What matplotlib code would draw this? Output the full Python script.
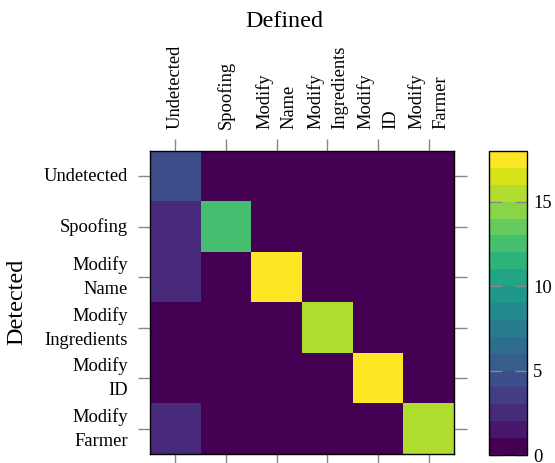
import numpy as np
import matplotlib
matplotlib.use("Agg")
import matplotlib.pyplot as plt
from matplotlib.colors import ListedColormap, BoundaryNorm

plt.rcParams['font.family'] = ['Liberation Serif', 'DejaVu Serif']

detected = ["Undetected", "Spoofing", "Modify\nName", "Modify\nIngredients", "Modify\nID", "Modify\nFarmer"]
defined = ["Undetected", "Spoofing", "Modify\nName", "Modify\nIngredients", "Modify\nID", "Modify\nFarmer"]
# rows: detected, columns: defined
matrix = np.array([
    [4, 0, 0, 0, 0, 0],
    [2, 12, 0, 0, 0, 0],
    [2, 0, 18, 0, 0, 0],
    [0, 0, 0, 15, 0, 0],
    [0, 0, 0, 0, 18, 0],
    [2, 0, 0, 0, 0, 15],
])
cbar_ticks = [0, 5, 10, 15]
vmax = 18

W, H = 555, 463
fig = plt.figure(figsize=(W / 100, H / 100), dpi=100)
ax = fig.add_axes([150 / W, (H - 454) / H, 304 / W, 303 / H])

ncol = vmax
cmap = ListedColormap(plt.get_cmap('viridis')(np.linspace(0, 1, ncol)))
norm = BoundaryNorm(np.arange(0, vmax + 1), ncol)

im = ax.imshow(matrix, cmap=cmap, norm=norm, aspect='auto', interpolation='nearest')

fs = 13.3
ls = 1.55
ax.set_xticks(np.arange(len(defined)))
ax.set_yticks(np.arange(len(detected)))
ax.xaxis.tick_top()
ax.tick_params(axis='both', which='both', direction='out', length=9, width=1.0,
               color='#888888', labelsize=fs, pad=7,
               top=True, bottom=True, left=True, right=True,
               labeltop=True, labelbottom=False, labelleft=True, labelright=False)
ax.set_xticklabels(defined, rotation=90, ha='center', va='bottom',
                   multialignment='left', linespacing=ls)
ax.set_yticklabels(detected, ha='right', va='center', multialignment='right', linespacing=ls)
for s in ax.spines.values():
    s.set_color('black')
    s.set_linewidth(1.0)

cax = fig.add_axes([489 / W, (H - 455) / H, 38 / W, 304 / H])
cb = fig.colorbar(im, cax=cax, ticks=cbar_ticks)
cb.outline.set_edgecolor('black')
cb.outline.set_linewidth(1.0)
cax.tick_params(direction='in', left=True, right=True, length=9, width=1.0,
                color='#888888', labelsize=fs, pad=4.5, labelleft=False, labelright=True)
cax.minorticks_off()

fig.text(284 / W, 1 - 27 / H, "Defined", ha='center', va='baseline', fontsize=17.4)
fig.text(17 / W, 1 - 302 / H, "Detected", ha='center', va='center', rotation=90, fontsize=17.4)

fig.savefig("out.png", dpi=100)
